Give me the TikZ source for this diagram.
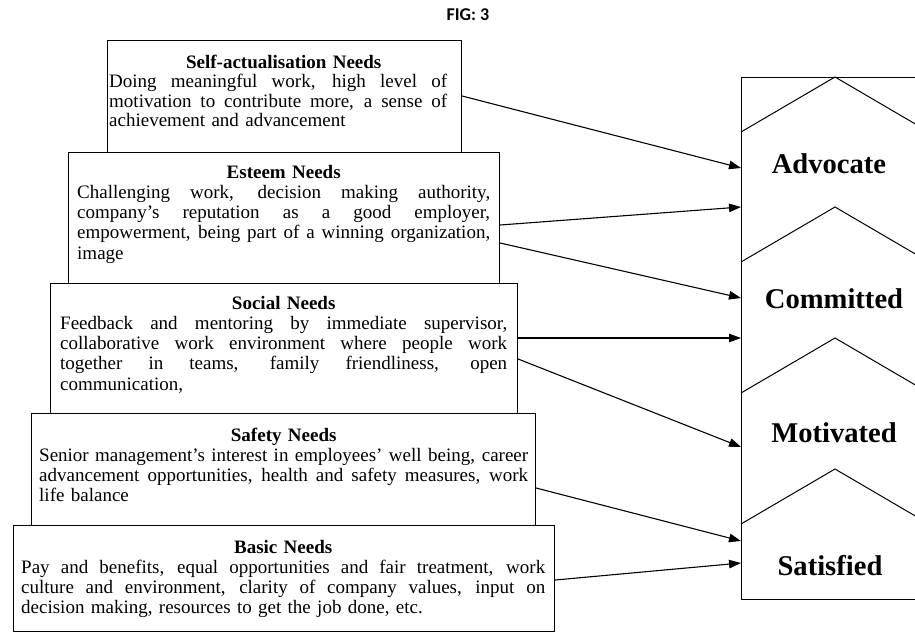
\documentclass[tikz,border=0pt]{standalone}
\usepackage{fontspec}
\setmainfont{Liberation Serif}
\newfontfamily\figfont{Carlito}
\usetikzlibrary{arrows.meta,calc}
\newcommand\jline[1]{\hbox to\linewidth{\spaceskip=\fontdimen2\font plus 1fil minus 0.3\fontdimen2\font\relax #1}}
\newcommand\ttl[1]{\hbox to\linewidth{\hfil\bfseries #1\hfil}}
\begin{document}
\begin{tikzpicture}[x=1pt,y=-1pt,
  needbox/.style={draw, line width=1.1pt, inner sep=0pt, anchor=north west},
  needtext/.style={anchor=base west, inner sep=0pt, text width=#1,
     font=\fontsize{19}{20.3}\selectfont},
  stagelabel/.style={anchor=base, inner sep=0pt, font=\bfseries\fontsize{28.6}{30}\selectfont},
  conn/.style={line width=1.1pt, -{Triangle[length=12pt,width=8.5pt]}},
  chev/.style={line width=1pt}]
\useasboundingbox (0,0) rectangle (915,634);
\clip (0,0) rectangle (915,634);

% title
\node[font=\figfont\bfseries\fontsize{18}{20}\selectfont, inner sep=0pt] (fig) at (468,15) {FIG: 3};

% need boxes
\node[needbox, minimum width=354, minimum height=112] (selfbox) at (107,40) {};
\node[needbox, minimum width=431, minimum height=131] (esteembox) at (68,152) {};
\node[needbox, minimum width=467, minimum height=130] (socialbox) at (50,283) {};
\node[needbox, minimum width=504, minimum height=112] (safetybox) at (31,413) {};
\node[needbox, minimum width=541, minimum height=106] (basicbox) at (13,525) {};

% texts
\node[needtext=338, font=\fontsize{19}{19.6}\selectfont] (selftext) at (109,68) {%
\hbox to\linewidth{\hfil\hspace{11pt}\bfseries Self-actualisation Needs\hfil}
\jline{Doing meaningful work, high level of}
\jline{motivation to contribute more, a sense of}
achievement and advancement};

\node[needtext=413] (esteemtext) at (77,178) {%
\ttl{Esteem Needs}
\jline{Challenging work, decision making authority,}
\jline{company’s reputation as a good employer,}
\jline{empowerment, being part of a winning organization,}
image};

\node[needtext=447] (socialtext) at (60,309) {%
\ttl{Social Needs}
\jline{Feedback and mentoring by immediate supervisor,}
\jline{collaborative work environment where people work}
\jline{together in teams, family friendliness, open}
communication,};

\node[needtext=489] (safetytext) at (39,441) {%
\ttl{Safety Needs}
\jline{Senior management’s interest in employees’ well being, career}
\jline{advancement opportunities, health and safety measures, work}
life balance};

\node[needtext=524] (basictext) at (21,553) {%
\ttl{Basic Needs}
\jline{Pay and benefits, equal opportunities and fair treatment, work}
\jline{culture and environment, clarity of company values, input on}
decision making, resources to get the job done, etc.};

% stage box
\node[needbox, minimum width=220, minimum height=522] (stage) at (741,77) {};
\foreach \p in {77,207,338,469}{
  \draw[chev] (741,\p+55) -- (835,\p) -- (929,\p+55);
}
\node[stagelabel] (advocate) at (829,173) {Advocate};
\node[stagelabel] (committed) at (834,308) {Committed};
\node[stagelabel] (motivated) at (834,442) {Motivated};
\node[stagelabel] (satisfied) at (830,575) {Satisfied};

% connectors
\draw[conn] (selfbox.east |- 0,96) -- (stage.west |- 0,168);
\draw[conn] (esteembox.east |- 0,225) -- (stage.west |- 0,207);
\draw[conn] (esteembox.east |- 0,243) -- (stage.west |- 0,298);
\draw[conn] (socialbox.east |- 0,338) -- (stage.west |- 0,338);
\draw[conn] (socialbox.east |- 0,359) -- (stage.west |- 0,447);
\draw[conn] (safetybox.east |- 0,488) -- (stage.west |- 0,541);
\draw[conn] (basicbox.east |- 0,580) -- (stage.west |- 0,563);
\end{tikzpicture}
\end{document}
